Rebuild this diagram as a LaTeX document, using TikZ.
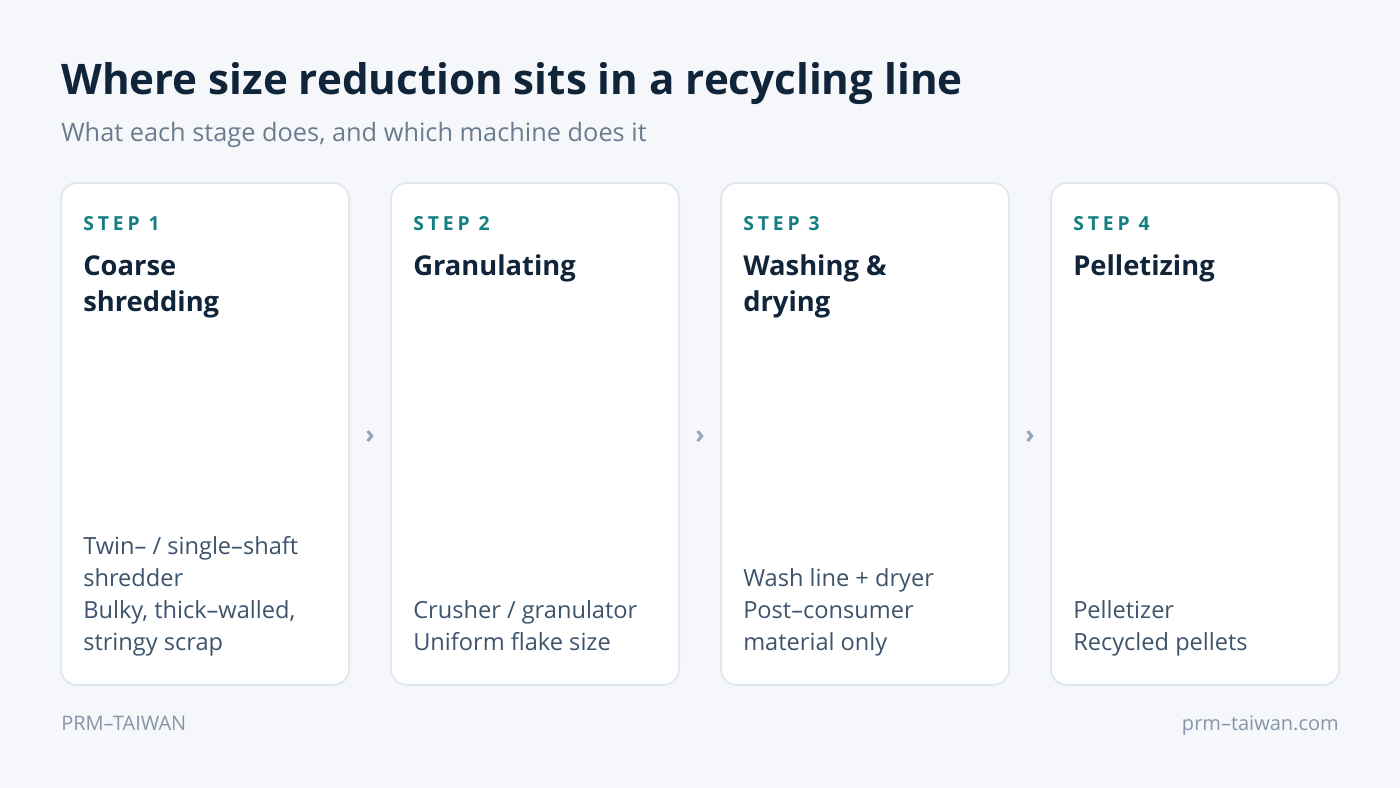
\documentclass[tikz,border=0pt]{standalone}
\usepackage{fontspec}
\setmainfont{Open Sans}
\usetikzlibrary{positioning}

\definecolor{bgcol}{HTML}{F5F7FA}
\definecolor{inkcol}{HTML}{10243A}
\definecolor{subcol}{HTML}{6B7C90}
\definecolor{stepcol}{HTML}{137F80}
\definecolor{bodycol}{HTML}{3E546C}
\definecolor{footcol}{HTML}{8696A8}
\definecolor{cardline}{HTML}{E2E8F0}
\definecolor{chevcol}{HTML}{94A3B8}

\begin{document}
\begin{tikzpicture}[x=0.75pt,y=-0.75pt,node distance=31.5pt,
    card/.style={draw=cardline,line width=1.5pt,fill=white,rounded corners=12pt,
      minimum width=216pt,minimum height=376.5pt,inner sep=0pt,outer sep=0pt,anchor=north west},
    steplbl/.style={anchor=base west,inner sep=0pt,text=stepcol,
      font=\fontsize{14.5}{17}\selectfont\bfseries\addfontfeature{LetterSpace=20}},
    stagename/.style={anchor=base west,inner sep=0pt,align=left,text=inkcol,
      font=\fontsize{20.5}{27}\selectfont\bfseries},
    machine/.style={anchor=south west,inner sep=0pt,align=left,text=bodycol,
      text depth=0pt,font=\fontsize{17.7}{24}\selectfont},
    chev/.style={text=chevcol,inner sep=0pt,yshift=-2.5pt,font=\fontsize{19}{19}\selectfont\bfseries},
    foot/.style={inner sep=0pt,text=footcol,font=\fontsize{15}{17}\selectfont}]
    \fill[bgcol] (0,0) rectangle (1400,788);
    \useasboundingbox (0,0) rectangle (1400,788);

    \node[anchor=base west,inner sep=0pt,text=inkcol,font=\fontsize{31.6}{36}\selectfont\bfseries]
      (title) at (61,95) {Where size reduction sits in a recycling line};
    \node[anchor=base west,inner sep=0pt,text=subcol,font=\fontsize{19}{22}\selectfont]
      (subtitle) at (61,142) {What each stage does, and which machine does it};

    \node[card] (c1) at (61,183) {};
    \node[card] (c2) [right=of c1] {};
    \node[card] (c3) [right=of c2] {};
    \node[card] (c4) [right=of c3] {};

    \node[steplbl] (s1) at ([xshift=16.5pt,yshift=-35.25pt]c1.north west) {STEP 1};
    \node[steplbl] (s2) at ([xshift=16.5pt,yshift=-35.25pt]c2.north west) {STEP 2};
    \node[steplbl] (s3) at ([xshift=16.5pt,yshift=-35.25pt]c3.north west) {STEP 3};
    \node[steplbl] (s4) at ([xshift=16.5pt,yshift=-35.25pt]c4.north west) {STEP 4};

    % base of a two-line name is its second line
    \node[stagename] (n1) at ([xshift=16.5pt,yshift=-96pt]c1.north west) {Coarse\\shredding};
    \node[stagename] (n2) at ([xshift=16.5pt,yshift=-69pt]c2.north west) {Granulating};
    \node[stagename] (n3) at ([xshift=16.5pt,yshift=-96pt]c3.north west) {Washing \&\\drying};
    \node[stagename] (n4) at ([xshift=16.5pt,yshift=-69pt]c4.north west) {Pelletizing};

    \node[machine] (m1) at ([xshift=16.5pt,yshift=25.5pt]c1.south west)
      {Twin– / single–shaft\\shredder\\Bulky, thick–walled,\\stringy scrap};
    \node[machine] (m2) at ([xshift=16.5pt,yshift=25.5pt]c2.south west)
      {Crusher / granulator\\Uniform flake size};
    \node[machine] (m3) at ([xshift=16.5pt,yshift=25.5pt]c3.south west)
      {Wash line + dryer\\Post–consumer\\material only};
    \node[machine] (m4) at ([xshift=16.5pt,yshift=25.5pt]c4.south west)
      {Pelletizer\\Recycled pellets};

    % markers between the stages
    \path (c1.east) -- node[chev] {›} (c2.west)
          (c2.east) -- node[chev] {›} (c3.west)
          (c3.east) -- node[chev] {›} (c4.west);

    \node[foot,anchor=base west] (brand) at (61,730) {PRM–TAIWAN};
    \node[foot,anchor=base east] (site) at (1339,730) {prm–taiwan.com};
\end{tikzpicture}
\end{document}
